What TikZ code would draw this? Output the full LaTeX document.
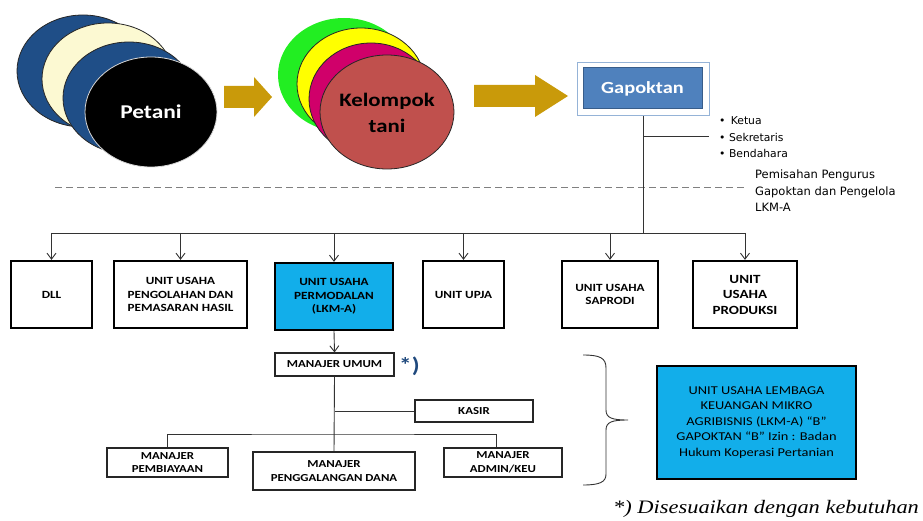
\documentclass[tikz,border=0pt]{standalone}
\usepackage{fontspec}
\setmainfont{Carlito}[FakeStretch=1.2]
\newfontfamily\dvs{DejaVu Sans}
\newfontfamily\lser{Liberation Serif}[FakeStretch=1.18]
\usetikzlibrary{arrows.meta}
\definecolor{dkblue}{HTML}{1F4E87}
\definecolor{cream}{HTML}{FCF9D2}
\definecolor{lgreen}{HTML}{22EE22}
\definecolor{yel}{HTML}{FFFF00}
\definecolor{mag}{HTML}{D0006A}
\definecolor{redd}{HTML}{C0504D}
\definecolor{gold}{HTML}{C99A0A}
\definecolor{gapo}{HTML}{4F81BD}
\definecolor{gapoborder}{HTML}{385D8A}
\definecolor{gapoout}{HTML}{95B3D7}
\definecolor{cyanbox}{HTML}{12AEEA}
\definecolor{starblue}{HTML}{1F497D}
\begin{document}
\begin{tikzpicture}[x=1pt,y=-1pt,
  ell/.style={draw=black!85,line width=0.8pt},
  bigarrow/.style={fill=gold,draw=none},
  unitbox/.style={draw=black,line width=2.2pt,fill=white,inner sep=0pt,align=center,
    font=\bfseries\fontsize{11}{13.5}\selectfont,minimum height=67pt},
  mgrbox/.style={draw=black!85,line width=1.1pt,fill=white,inner sep=0pt,align=center,
    font=\bfseries\fontsize{10.7}{13.5}\selectfont},
  conn/.style={draw=black!80,line width=0.9pt},
  arr/.style={conn,-{Straight Barb[length=6pt,width=9pt]}},
]
\useasboundingbox (0,0) rectangle (923,521);
% Petani ellipses
\filldraw[ell,fill=dkblue] (83,71) ellipse [x radius=66,y radius=56];
\filldraw[ell,fill=cream] (108,79) ellipse [x radius=66,y radius=56];
\filldraw[ell,fill=dkblue] (129,98) ellipse [x radius=66,y radius=56];
\filldraw[draw=white!85!black,line width=0.8pt,fill=black] (151,112) ellipse [x radius=66,y radius=55];
\node[text=white,font=\bfseries\fontsize{19.5}{22}\selectfont] (petani) at (151,112) {Petani};
% arrow 1
\fill[bigarrow] (224,86) -- (254,86) -- (254,77) -- (272,97) -- (254,117) -- (254,108) -- (224,108) -- cycle;
% Kelompok ellipses
\filldraw[ell,draw=none,fill=lgreen] (344,75) ellipse [x radius=66,y radius=57];
\filldraw[ell,fill=yel] (361,84) ellipse [x radius=64,y radius=56];
\filldraw[ell,fill=mag] (371,99) ellipse [x radius=62,y radius=56];
\filldraw[ell,fill=redd] (387,112) ellipse [x radius=67,y radius=57];
\node[align=center,font=\bfseries\fontsize{19}{26}\selectfont] (kelompok) at (387,113) {Kelompok\\tani};
% arrow 2
\fill[bigarrow] (474,85) -- (535,85) -- (535,75) -- (568,96) -- (535,117) -- (535,107) -- (474,107) -- cycle;
% Gapoktan
\node[draw=gapoout,line width=1pt,fill=white,minimum width=132pt,minimum height=53pt,inner sep=0pt] (gapout) at (643,89.5) {};
\node[draw=gapoborder,line width=1pt,fill=gapo,minimum width=119pt,minimum height=41pt,inner sep=0pt,
  text=white,font=\bfseries\fontsize{17}{20}\selectfont] (gapoktan) at (642.5,88.5) {Gapoktan};
% pengurus list
\node[anchor=west,font=\dvs\fontsize{10.8}{12}\selectfont,inner sep=0pt] (ketua) at (719,121) {•\, Ketua};
\node[anchor=west,font=\dvs\fontsize{10.8}{12}\selectfont,inner sep=0pt] (sekre) at (719,137) {• Sekretaris};
\node[anchor=west,font=\dvs\fontsize{10.8}{12}\selectfont,inner sep=0pt] (benda) at (719,153) {• Bendahara};
\coordinate (brk) at (709,136);
% dashed separator
\coordinate (dashL) at (55,188);
\coordinate (dashR) at (745,188);
\draw[gray,line width=1pt,dash pattern=on 7pt off 4pt] (dashL) -- (dashR);
\node[anchor=north west,align=left,inner sep=0pt,font=\dvs\fontsize{11.5}{16.5}\selectfont] (pemisahan) at (755,170)
  {Pemisahan Pengurus\\Gapoktan dan Pengelola\\LKM-A};
% unit boxes
\node[unitbox,minimum width=81pt] (dll) at (51.5,294.5) {DLL};
\node[unitbox,minimum width=133pt] (olah) at (180.5,294.5) {UNIT USAHA\\PENGOLAHAN DAN\\PEMASARAN HASIL};
\node[unitbox,minimum width=118pt,fill=cyanbox] (modal) at (334,296.5) {UNIT USAHA\\PERMODALAN\\(LKM-A)};
\node[unitbox,minimum width=81pt] (upja) at (463.5,294.5) {UNIT UPJA};
\node[unitbox,minimum width=96pt] (saprodi) at (610,294.5) {UNIT USAHA\\SAPRODI};
\node[unitbox,minimum width=104pt,font=\bfseries\fontsize{12.5}{15.5}\selectfont] (produksi) at (745,294.5) {UNIT\\USAHA\\PRODUKSI};
% gapoktan trunk and bus
\coordinate (bus) at (643,233);
\draw[conn] (gapout.south) -- (bus);
\draw[conn] (gapout.south |- brk) -- (brk);
\draw[conn] (dll.north |- bus) -- (produksi.north |- bus);
\foreach \b in {dll,olah,modal,upja,saprodi,produksi}
  \draw[arr] (\b.north |- bus) -- (\b.north);
% manajer section
\node[mgrbox,minimum width=119pt,minimum height=23pt] (umum) at (334.5,364.5) {MANAJER UMUM};
\node[anchor=west,text=starblue,font=\bfseries\fontsize{21}{22}\selectfont,inner sep=0pt] (star) at (399,366) {*)};
\node[mgrbox,minimum width=118pt,minimum height=22pt] (kasir) at (474,411) {KASIR};
\node[mgrbox,minimum width=121pt,minimum height=29pt] (biaya) at (167.5,462.5) {MANAJER\\PEMBIAYAAN};
\node[mgrbox,minimum width=162pt,minimum height=38pt] (galang) at (334,471) {MANAJER\\PENGGALANGAN DANA};
\node[mgrbox,minimum width=118pt,minimum height=29pt] (admin) at (503,462.5) {MANAJER\\ADMIN/KEU};
\draw[arr] (modal.south) -- (umum.north);
\coordinate (bus2) at (334,434);
\draw[conn] (umum.south) -- (galang.north);
\draw[conn] (umum.south |- kasir.west) -- (kasir.west);
\draw[conn] (biaya.north) |- (bus2) -| ([xshift=-7pt]admin.north);
% brace
\coordinate (brtop) at (583,355);
\coordinate (brtip) at (628,420);
\coordinate (brbot) at (583,485);
\draw[black!80,line width=0.9pt] (brtop) .. controls (600,355) and (606,358) .. (606,368) -- (606,410)
  .. controls (606,418) and (612,420) .. (brtip) .. controls (612,420) and (606,422) .. (606,430)
  -- (606,474) .. controls (606,482) and (600,485) .. (brbot);
% LKM box
\node[draw=black,line width=2.2pt,fill=cyanbox,minimum width=199pt,minimum height=113pt,inner sep=0pt,
  align=center,font=\fontsize{12}{15.5}\selectfont] (lkm) at (756.5,422.5)
  {UNIT USAHA LEMBAGA\\KEUANGAN MIKRO\\AGRIBISNIS (LKM-A) “B”\\GAPOKTAN “B” Izin : Badan\\Hukum Koperasi Pertanian};
% footnote
\node[anchor=base west,inner sep=0pt,font=\lser\itshape\fontsize{19}{22}\selectfont] (foot) at (613,513) {*) Disesuaikan dengan kebutuhan};
\end{tikzpicture}
\end{document}
